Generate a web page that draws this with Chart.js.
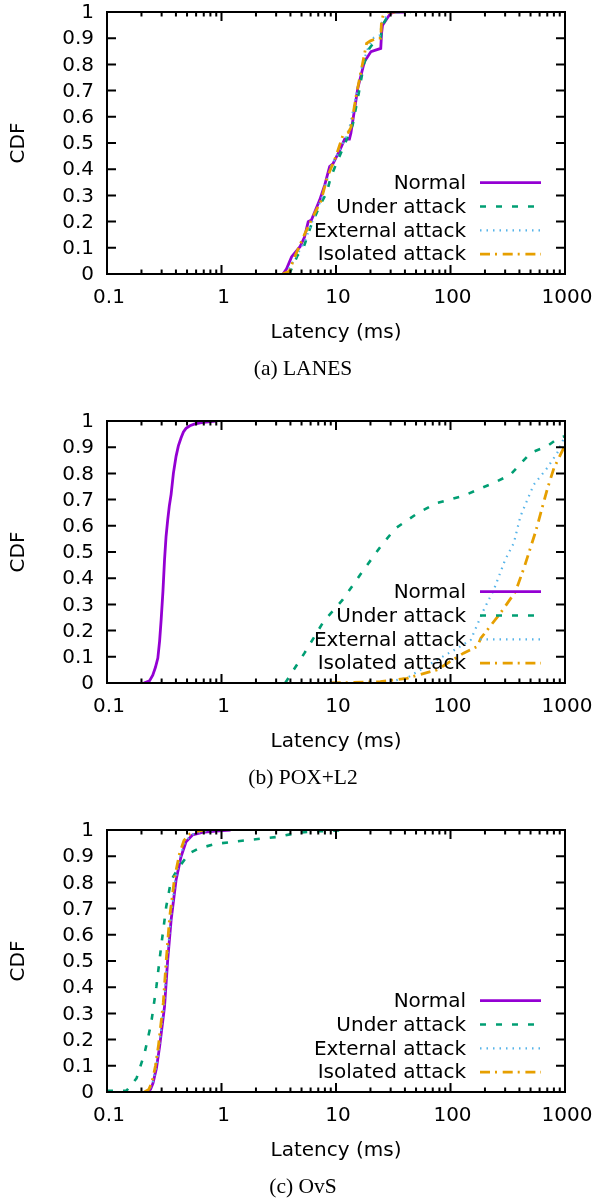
<!DOCTYPE html>
<html>
<head>
<meta charset="utf-8">
<script src="https://cdn.jsdelivr.net/npm/chart.js@4.4.1/dist/chart.umd.min.js"></script>
<style>
  body { margin: 0; background: #fff; }
  canvas { display: block; }
</style>
</head>
<body>
<canvas id="lanes" width="597" height="409"></canvas>
<canvas id="pox" width="597" height="409"></canvas>
<canvas id="ovs" width="597" height="383"></canvas>
<script>
// series names and ticks
let seriesNames = ["Normal", "Under attack", "External attack", "Isolated attack"];
let xTicks = [0.1, 1, 10, 100, 1000];
let xTickLabels = ["0.1", "1", "10", "100", "1000"];
let yTicks = [0, 0.1, 0.2, 0.3, 0.4, 0.5, 0.6, 0.7, 0.8, 0.9, 1];
let yTickLabels = ["0", "0.1", "0.2", "0.3", "0.4", "0.5", "0.6", "0.7", "0.8", "0.9", "1"];

// (a) LANES  [latency ms, cdf]
let lanesNormal = [[3.45,0],[3.7,0.02],[4.1,0.066],[4.85,0.104],[5.3,0.14],[5.72,0.2],[6.1,0.206],[7.2,0.282],[7.98,0.34],[8.8,0.41],[9.4,0.42],[10.8,0.473],[11.9,0.515],[13.1,0.515],[13.5,0.538],[15.5,0.709],[17.7,0.81],[20.2,0.849],[24.6,0.861],[25.0,0.92],[25.5,0.95],[28,0.976],[30,0.995],[33,1.0],[40,1.0]];
let lanesUnder = [[3.9,0],[4.2,0.03],[4.6,0.07],[5.2,0.1],[6.0,0.18],[7.2,0.26],[8.3,0.31],[9.0,0.37],[10.5,0.44],[12.3,0.51],[14.0,0.57],[15.8,0.69],[17.5,0.8],[19.5,0.86],[22,0.89],[24.5,0.9],[25.5,0.95],[28,0.98],[31,1.0],[45,1.0]];
let lanesExternal = [[3.6,0],[4.0,0.03],[4.5,0.07],[5.3,0.12],[6.2,0.2],[7.5,0.29],[9.0,0.41],[11,0.48],[13,0.55],[15,0.68],[17,0.8],[19,0.86],[21,0.9],[24,0.91],[25.3,0.96],[28,0.99],[32,1.0],[38,1.0]];
let lanesIsolated = [[3.4,0],[3.9,0.01],[4.4,0.07],[5.3,0.15],[6.0,0.2],[7.4,0.28],[8.4,0.37],[10,0.45],[11.5,0.53],[12.8,0.54],[13.5,0.56],[15,0.68],[17,0.8],[18.5,0.88],[20,0.89],[23,0.9],[24.6,0.9],[25,0.97],[26,0.99],[28,1.0],[33,1.0]];

// (b) POX+L2
let poxNormal = [[0.21,0],[0.235,0.008],[0.251,0.03],[0.265,0.06],[0.278,0.095],[0.288,0.16],[0.297,0.24],[0.308,0.35],[0.318,0.47],[0.328,0.56],[0.339,0.623],[0.35,0.675],[0.363,0.72],[0.38,0.8],[0.401,0.865],[0.42,0.905],[0.443,0.935],[0.465,0.958],[0.49,0.972],[0.53,0.982],[0.577,0.988],[0.65,0.993],[0.73,0.996],[0.89,1.0]];
let poxUnder = [[3.6,0],[5.3,0.114],[7.8,0.235],[11.4,0.317],[16.7,0.42],[24.4,0.52],[33,0.59],[52,0.649],[76,0.687],[131,0.715],[177,0.74],[239,0.764],[334,0.795],[500,0.878],[700,0.904],[883,0.936],[1000,0.942]];
let poxExternal = [[20,0],[30,0.006],[42,0.02],[76,0.088],[112,0.13],[150,0.164],[195,0.279],[239,0.356],[300,0.47],[357,0.534],[408,0.636],[470,0.7],[534,0.757],[700,0.821],[855,0.878],[1000,0.944]];
let poxIsolated = [[9,0],[24.4,0.005],[41.6,0.018],[76,0.05],[130,0.114],[171,0.139],[184,0.171],[273,0.267],[370,0.349],[443,0.445],[556,0.58],[700,0.74],[800,0.82],[977,0.898],[1000,0.91]];

// (c) OvS
let ovsNormal = [[0.221,0],[0.24,0.01],[0.252,0.033],[0.27,0.09],[0.288,0.173],[0.318,0.326],[0.339,0.504],[0.363,0.656],[0.401,0.809],[0.443,0.898],[0.49,0.955],[0.558,0.981],[0.68,0.991],[0.89,0.996],[1.2,1.0]];
let ovsUnder = [[0.1,0.005],[0.148,0.005],[0.181,0.052],[0.213,0.148],[0.243,0.262],[0.27,0.402],[0.297,0.555],[0.329,0.707],[0.363,0.809],[0.428,0.86],[0.524,0.911],[0.637,0.93],[0.89,0.947],[1.51,0.959],[3.15,0.974],[4.7,0.99],[7,0.995],[13,1.0]];
let ovsExternal = [[0.215,0],[0.235,0.01],[0.25,0.035],[0.268,0.09],[0.286,0.175],[0.315,0.33],[0.336,0.51],[0.36,0.66],[0.395,0.81],[0.437,0.9],[0.48,0.955],[0.55,0.982],[0.66,0.993],[0.85,1.0]];
let ovsIsolated = [[0.212,0],[0.232,0.01],[0.248,0.04],[0.265,0.1],[0.282,0.18],[0.31,0.34],[0.33,0.51],[0.353,0.67],[0.39,0.82],[0.43,0.91],[0.47,0.96],[0.53,0.985],[0.6,0.995],[0.73,1.0]];

let styles = [
  { color: "#9400d3", width: 2.8, dash: [] },
  { color: "#009e73", width: 2.6, dash: [6, 10] },
  { color: "#56b4e9", width: 2.2, dash: [1.5, 5] },
  { color: "#e69f00", width: 2.8, dash: [10, 5, 2, 5.7] }
];

const FONT = '"DejaVu Sans", sans-serif';

let frame = {
  id: "frame",
  afterDatasetsDraw(chart, args, opts) {
    let ctx = chart.ctx, a = chart.chartArea;
    let xs = chart.scales.x, ys = chart.scales.y;
    ctx.save();
    ctx.strokeStyle = "#000";
    ctx.lineWidth = 2;
    ctx.setLineDash([]);
    ctx.beginPath();
    yTicks.forEach(v => {
      let y = ys.getPixelForValue(v);
      ctx.moveTo(a.left, y); ctx.lineTo(a.left + 9, y);
      ctx.moveTo(a.right, y); ctx.lineTo(a.right - 9, y);
    });
    xTicks.forEach(v => {
      let x = xs.getPixelForValue(v);
      ctx.moveTo(x, a.bottom); ctx.lineTo(x, a.bottom - 9);
      ctx.moveTo(x, a.top); ctx.lineTo(x, a.top + 9);
    });
    xTicks.slice(0, -1).forEach(d => {
      for (let k = 2; k < 10; k++) {
        let x = xs.getPixelForValue(d * k);
        ctx.moveTo(x, a.bottom); ctx.lineTo(x, a.bottom - 4.5);
        ctx.moveTo(x, a.top); ctx.lineTo(x, a.top + 4.5);
      }
    });
    ctx.stroke();
    ctx.strokeRect(a.left, a.top, a.right - a.left, a.bottom - a.top);

    ctx.fillStyle = "#000";
    ctx.font = "20px " + FONT;
    ctx.textBaseline = "middle";
    ctx.textAlign = "right";
    yTicks.forEach((v, i) => ctx.fillText(yTickLabels[i], a.left - 13, ys.getPixelForValue(v) + 1));
    ctx.textAlign = "center";
    xTicks.forEach((v, i) => ctx.fillText(xTickLabels[i], xs.getPixelForValue(v) + 2, a.bottom + 24));
    ctx.fillText("Latency (ms)", (a.left + a.right) / 2, a.bottom + 59);
    ctx.save();
    ctx.translate(19, (a.top + a.bottom) / 2);
    ctx.rotate(-Math.PI / 2);
    ctx.fillText("CDF", 0, 0);
    ctx.restore();

    ctx.font = '21.5px "Liberation Serif", serif';
    ctx.fillText(opts.caption, 303, a.bottom + 95);

    // key
    ctx.font = "20px " + FONT;
    ctx.textAlign = "right";
    seriesNames.forEach((name, i) => {
      let y = a.top + 170.7 + i * 23.8;
      ctx.fillStyle = "#000";
      ctx.fillText(name, a.right - 99, y + 1);
      let s = styles[i];
      ctx.strokeStyle = s.color;
      ctx.lineWidth = s.width;
      ctx.setLineDash(s.dash);
      ctx.beginPath();
      ctx.moveTo(a.right - 85, y);
      ctx.lineTo(a.right - 24, y);
      ctx.stroke();
    });
    ctx.restore();
  }
};

function makeDataset(points, i) {
  let s = styles[i];
  return {
    label: seriesNames[i],
    data: points.map(p => ({ x: p[0], y: p[1] })),
    showLine: true,
    borderColor: s.color,
    backgroundColor: s.color,
    borderWidth: s.width,
    borderDash: s.dash,
    pointRadius: 0,
    tension: 0,
    order: 3 - i
  };
}

function makeChart(id, caption, series) {
  let canvas = document.getElementById(id);
  return new Chart(canvas, {
    type: "scatter",
    data: { datasets: series.map(makeDataset) },
    options: {
      responsive: false,
      animation: false,
      devicePixelRatio: 1,
      layout: { padding: { left: 107, right: 32, top: 12, bottom: canvas.height - 274 } },
      scales: {
        x: { type: "logarithmic", min: 0.1, max: 1000, display: false },
        y: { type: "linear", min: 0, max: 1, display: false }
      },
      plugins: {
        legend: { display: false },
        tooltip: { enabled: false },
        frame: { caption: caption }
      }
    },
    plugins: [frame]
  });
}

makeChart("lanes", "(a) LANES", [lanesNormal, lanesUnder, lanesExternal, lanesIsolated]);
makeChart("pox", "(b) POX+L2", [poxNormal, poxUnder, poxExternal, poxIsolated]);
makeChart("ovs", "(c) OvS", [ovsNormal, ovsUnder, ovsExternal, ovsIsolated]);
</script>
</body>
</html>
